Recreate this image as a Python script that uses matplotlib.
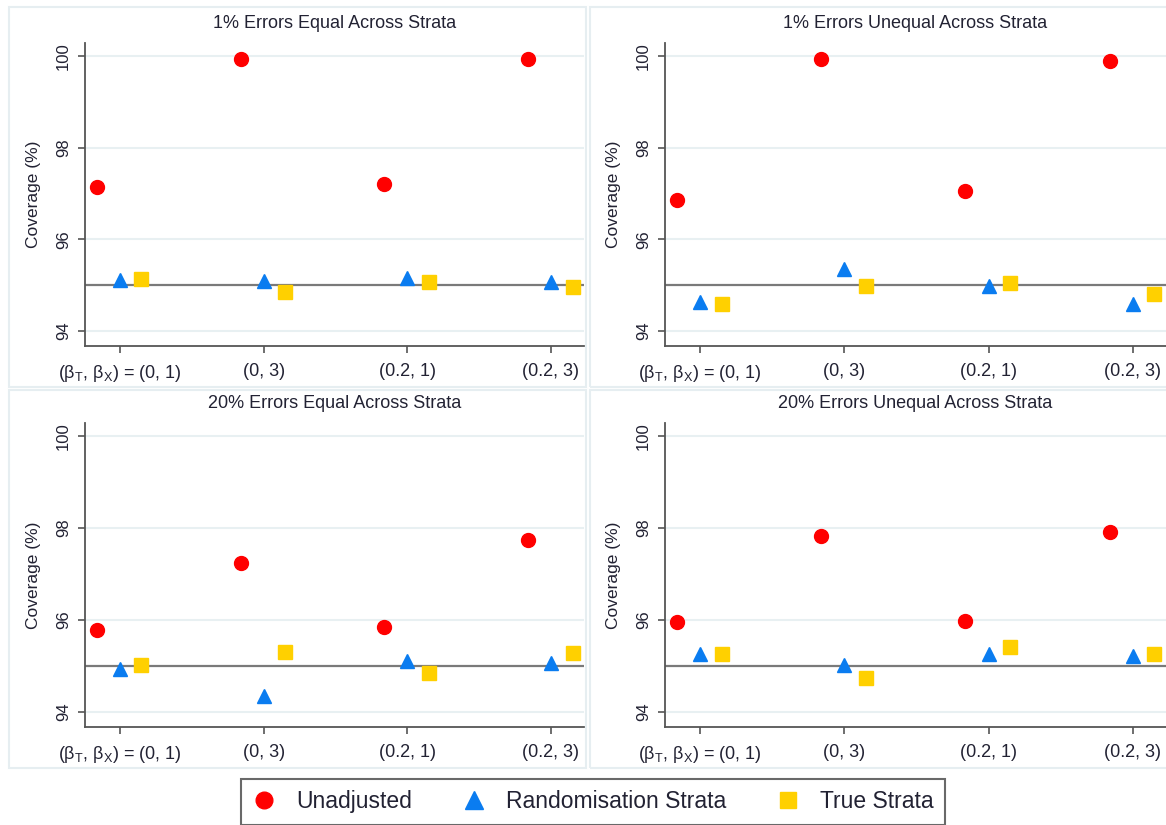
import matplotlib
matplotlib.use("Agg")
import matplotlib.pyplot as plt
from matplotlib.lines import Line2D
from matplotlib.patches import Rectangle

plt.rcParams['font.family'] = ['Liberation Sans', 'DejaVu Sans']

# x categories
groups = [1, 2, 3, 4]
xlabels = [r'($\mathregular{\beta_T}$, $\mathregular{\beta_X}$) = (0, 1)', '(0, 3)', '(0.2, 1)', '(0.2, 3)']
titles = ['1% Errors Equal Across Strata', '1% Errors Unequal Across Strata',
          '20% Errors Equal Across Strata', '20% Errors Unequal Across Strata']

# coverage (%)
unadj_1eq = [97.15, 99.93, 97.22, 99.93]
rand_1eq = [95.11, 95.08, 95.15, 95.06]
true_1eq = [95.13, 94.86, 95.06, 94.96]

unadj_1uneq = [96.86, 99.95, 97.06, 99.89]
rand_1uneq = [94.64, 95.35, 94.97, 94.59]
true_1uneq = [94.59, 94.97, 95.04, 94.81]

unadj_20eq = [95.78, 97.25, 95.84, 97.75]
rand_20eq = [94.93, 94.34, 95.11, 95.06]
true_20eq = [95.02, 95.31, 94.84, 95.29]

unadj_20uneq = [95.95, 97.83, 95.97, 97.91]
rand_20uneq = [95.27, 95.02, 95.26, 95.22]
true_20uneq = [95.27, 94.74, 95.41, 95.27]

nominal = 95
yticks = [94, 96, 98, 100]

panels = [(unadj_1eq, rand_1eq, true_1eq),
          (unadj_1uneq, rand_1uneq, true_1uneq),
          (unadj_20eq, rand_20eq, true_20eq),
          (unadj_20uneq, rand_20uneq, true_20uneq)]

red = '#ff0000'
blue = '#0a7cf0'
yellow = '#ffd000'
txt = '#222233'

W, H = 1166, 825
fig = plt.figure(figsize=(W / 100, H / 100), dpi=100)
fig.patch.set_facecolor('white')

# panel frames (pixels: left, top, right, bottom)
frames = [(9, 7, 586, 387), (590, 7, 1170, 387), (9, 390, 586, 768), (590, 390, 1170, 768)]
for l, t, r, b in frames:
    fig.add_artist(Rectangle((l / W, 1 - b / H), (r - l) / W, (b - t) / H,
                             transform=fig.transFigure, fill=False,
                             edgecolor='#e6eef1', lw=1.5))

# axes boxes (pixels: left, top, right, bottom)
boxes = [(85, 43, 584, 346), (665, 43, 1166, 346), (85, 423, 584, 727), (665, 423, 1166, 727)]

for i, (l, t, r, b) in enumerate(boxes):
    ax = fig.add_axes([l / W, 1 - b / H, (r - l) / W, (b - t) / H])
    u, rs, ts = panels[i]
    ax.axhline(nominal, color='#7a7a7a', lw=1.6, zorder=1)
    ax.plot([g - 0.16 for g in groups], u, 'o', color=red, ms=10, ls='none', zorder=3)
    ax.plot(groups, rs, '^', color=blue, ms=10.5, ls='none', zorder=3)
    ax.plot([g + 0.15 for g in groups], ts, 's', color=yellow, ms=9.5, ls='none', zorder=3)

    ax.set_xlim(0.757, 4.23)
    ax.set_ylim(93.67, 100.29)
    ax.set_xticks(groups)
    ax.set_xticklabels(xlabels)
    ax.set_yticks(yticks)
    ax.yaxis.grid(True, color='#e8f0f2', lw=1.5)
    ax.set_axisbelow(True)
    for s in ['top', 'right']:
        ax.spines[s].set_visible(False)
    for s in ['left', 'bottom']:
        ax.spines[s].set_color('#555555')
        ax.spines[s].set_linewidth(1.3)
    ax.tick_params(axis='x', length=5, width=1.2, color='#555555', labelsize=13,
                   labelcolor=txt, pad=7)
    ax.tick_params(axis='y', length=5, width=1.2, color='#555555', labelsize=12,
                   labelcolor=txt, labelrotation=90, pad=5)
    for lab in ax.get_yticklabels():
        lab.set_va('center')
    ax.set_ylabel('Coverage (%)', fontsize=12.5, color=txt)
    ax.yaxis.set_label_coords(-0.088, 0.5)
    ax.set_title(titles[i], fontsize=13, color=txt, pad=11)
    ax.patch.set_alpha(0)

handles = [Line2D([], [], marker='o', color=red, ls='none', ms=12),
           Line2D([], [], marker='^', color=blue, ls='none', ms=13),
           Line2D([], [], marker='s', color=yellow, ls='none', ms=11.5)]
leg = fig.legend(handles, ['Unadjusted', 'Randomisation Strata', 'True Strata'],
                 loc='upper center', bbox_to_anchor=(593 / W, 1 - 779 / H), ncol=3,
                 fontsize=16.5, frameon=True, fancybox=False, handlelength=1.0,
                 handletextpad=0.9, columnspacing=2.2, borderpad=0.5, borderaxespad=0)
leg.get_frame().set_edgecolor('#444444')
leg.get_frame().set_linewidth(1.5)
for t in leg.get_texts():
    t.set_color(txt)

fig.savefig('out.png', dpi=100, facecolor='white')
